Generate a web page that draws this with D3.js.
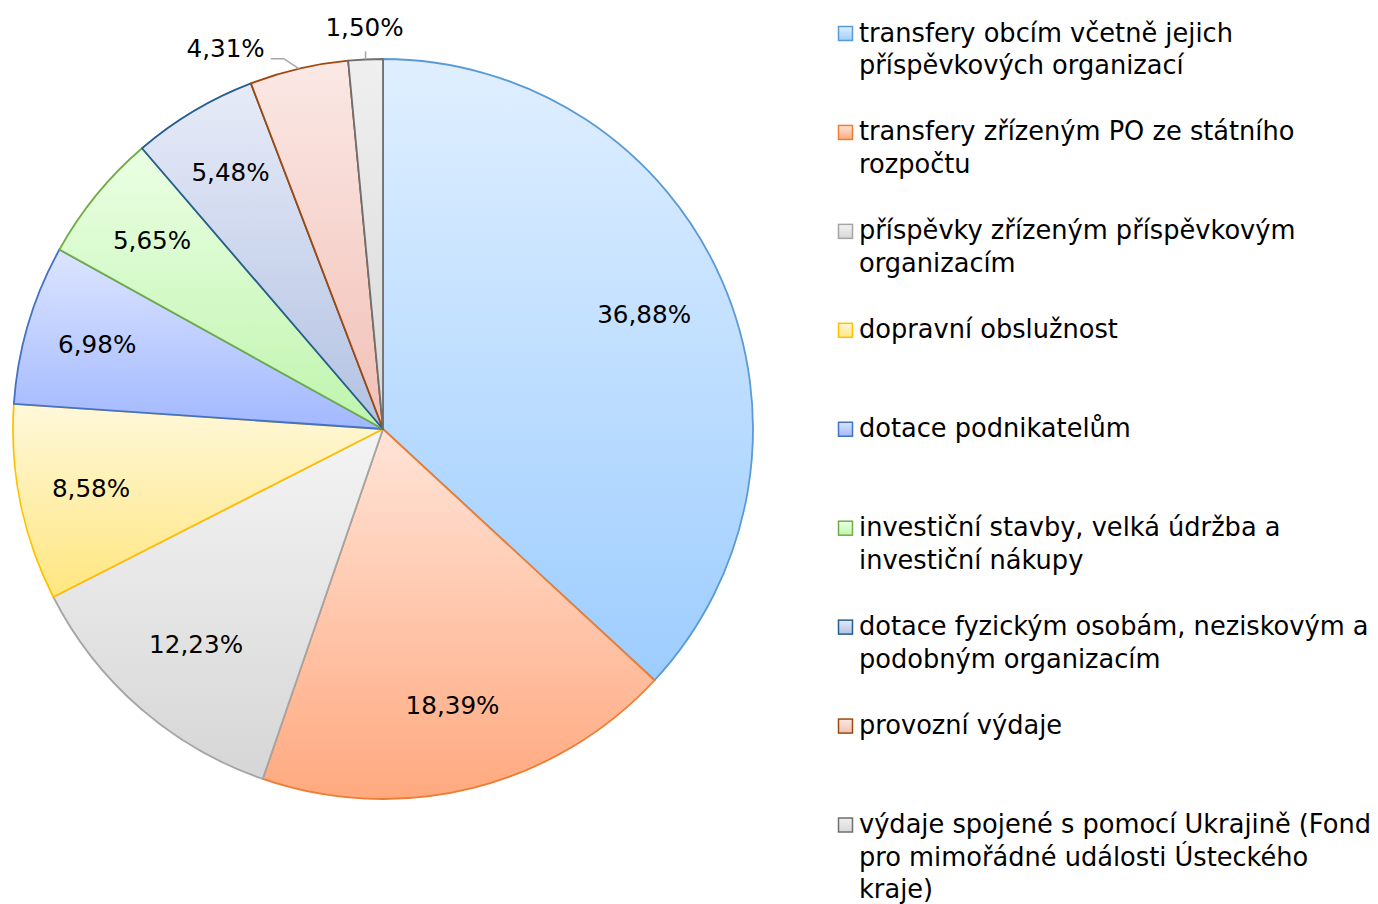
<!DOCTYPE html>
<html>
<head>
<meta charset="utf-8">
<script src="https://cdn.jsdelivr.net/npm/d3@7"></script>
<style>
  html, body { margin: 0; padding: 0; background: #fff; }
  svg { display: block; }
  text { font-family: "DejaVu Sans", sans-serif; fill: #000; }
</style>
</head>
<body>
<svg id="chart" width="1378" height="904"></svg>
<script>
// ---- data ----
const categories = [
  ["transfery obcím včetně jejich", "příspěvkových organizací"],
  ["transfery zřízeným PO ze státního", "rozpočtu"],
  ["příspěvky zřízeným příspěvkovým", "organizacím"],
  ["dopravní obslužnost"],
  ["dotace podnikatelům"],
  ["investiční stavby, velká údržba a", "investiční nákupy"],
  ["dotace fyzickým osobám, neziskovým a", "podobným organizacím"],
  ["provozní výdaje"],
  ["výdaje spojené s pomocí Ukrajině (Fond", "pro mimořádné události Ústeckého", "kraje)"]
];
const values = [36.88, 18.39, 12.23, 8.58, 6.98, 5.65, 5.48, 4.31, 1.50];
const strokeColors = ["#5B9BD5", "#ED7D31", "#A5A5A5", "#FFC000", "#4472C4", "#70AD47", "#255E91", "#9E480E", "#6f6f6f"];
const fillTop    = ["#e0efff", "#ffe4d8", "#f4f4f4", "#fff8da", "#dce5ff", "#ebffe4", "#e7ebf8", "#fbe8e5", "#efefef"];
const fillBottom = ["#9dcdff", "#ffa97f", "#d6d6d6", "#ffe680", "#a2b8ff", "#bff4ad", "#b2c2e2", "#f1c0b6", "#d9d9d9"];

// ---- layout ----
const svg = d3.select("#chart");
const cx = 383, cy = 429, R = 370;
const fmt = v => d3.format(".2f")(v).replace(".", ",") + "%";

const defs = svg.append("defs");
values.forEach((v, i) => {
  const g = defs.append("linearGradient").attr("id", "g" + i)
    .attr("x1", 0).attr("y1", 0).attr("x2", 0).attr("y2", 1);
  g.append("stop").attr("offset", "0%").attr("stop-color", fillTop[i]);
  g.append("stop").attr("offset", "100%").attr("stop-color", fillBottom[i]);
});

const pie = d3.pie().sort(null).value(d => d);
const arcs = pie(values);
const arc = d3.arc().innerRadius(0).outerRadius(R);
const labelArcBig = d3.arc().innerRadius(285).outerRadius(285);
const labelArcSmall = d3.arc().innerRadius(298).outerRadius(298);

const gPie = svg.append("g").attr("transform", `translate(${cx},${cy})`);
gPie.selectAll("path.slice").data(arcs).enter().append("path")
  .attr("class", "slice")
  .attr("d", arc)
  .attr("fill", (d, i) => `url(#g${i})`)
  .attr("stroke", (d, i) => strokeColors[i])
  .attr("stroke-width", 1.8)
  .attr("stroke-linejoin", "round");

// fit font sizes to reference widths
function fitSize(str, target, base) {
  const t = svg.append("text").attr("font-size", base).text(str);
  const w = t.node().getComputedTextLength();
  t.remove();
  return base * target / w;
}
const labelSize = fitSize("36,88%", 94, 24);
const legendSize = fitSize("transfery obcím včetně jejich", 374, 24);

// data labels
arcs.forEach((d, i) => {
  const mid = (d.startAngle + d.endAngle) / 2;
  const outside = d.value < 5;
  if (!outside) {
    const la = d.value > 10 ? labelArcBig : labelArcSmall;
    const [x, y] = la.centroid(d);
    gPie.append("text").attr("x", x).attr("y", y)
      .attr("text-anchor", "middle").attr("dominant-baseline", "central")
      .attr("font-size", labelSize).text(fmt(d.value));
  } else {
    const sx = Math.sin(mid), sy = -Math.cos(mid);
    const p0 = [R * sx, R * sy];
    if (Math.abs(sx) < 0.1) {
      const p1 = [p0[0], p0[1] - 8];
      gPie.append("path").attr("d", d3.line()([p0, p1]))
        .attr("stroke", "#a6a6a6").attr("stroke-width", 1.5).attr("fill", "none");
      gPie.append("text").attr("x", p1[0] - 1).attr("y", p1[1] - 15)
        .attr("text-anchor", "middle").attr("font-size", labelSize).text(fmt(d.value));
    } else {
      const p1 = [p0[0] - 15, p0[1] - 10];
      const p2 = [p1[0] - 13, p1[1]];
      gPie.append("path").attr("d", d3.line()([p0, p1, p2]))
        .attr("stroke", "#a6a6a6").attr("stroke-width", 1.5).attr("fill", "none");
      gPie.append("text").attr("x", p2[0] - 6).attr("y", p2[1] - 2)
        .attr("text-anchor", "end").attr("font-size", labelSize).text(fmt(d.value));
    }
  }
});

// legend
const legY = d3.scaleLinear().domain([0, categories.length - 1]).range([41.5, 833]);
const gLeg = svg.append("g");
categories.forEach((lines, i) => {
  const y = legY(i);
  gLeg.append("rect").attr("x", 838.5).attr("y", y - 15).attr("width", 14).attr("height", 14)
    .attr("fill", `url(#g${i})`).attr("stroke", strokeColors[i]).attr("stroke-width", 1.5);
  const t = gLeg.append("text").attr("x", 859).attr("y", y).attr("font-size", legendSize);
  lines.forEach((ln, j) => {
    t.append("tspan").attr("x", 859).attr("y", y + j * 32.6).text(ln);
  });
});
</script>
</body>
</html>
